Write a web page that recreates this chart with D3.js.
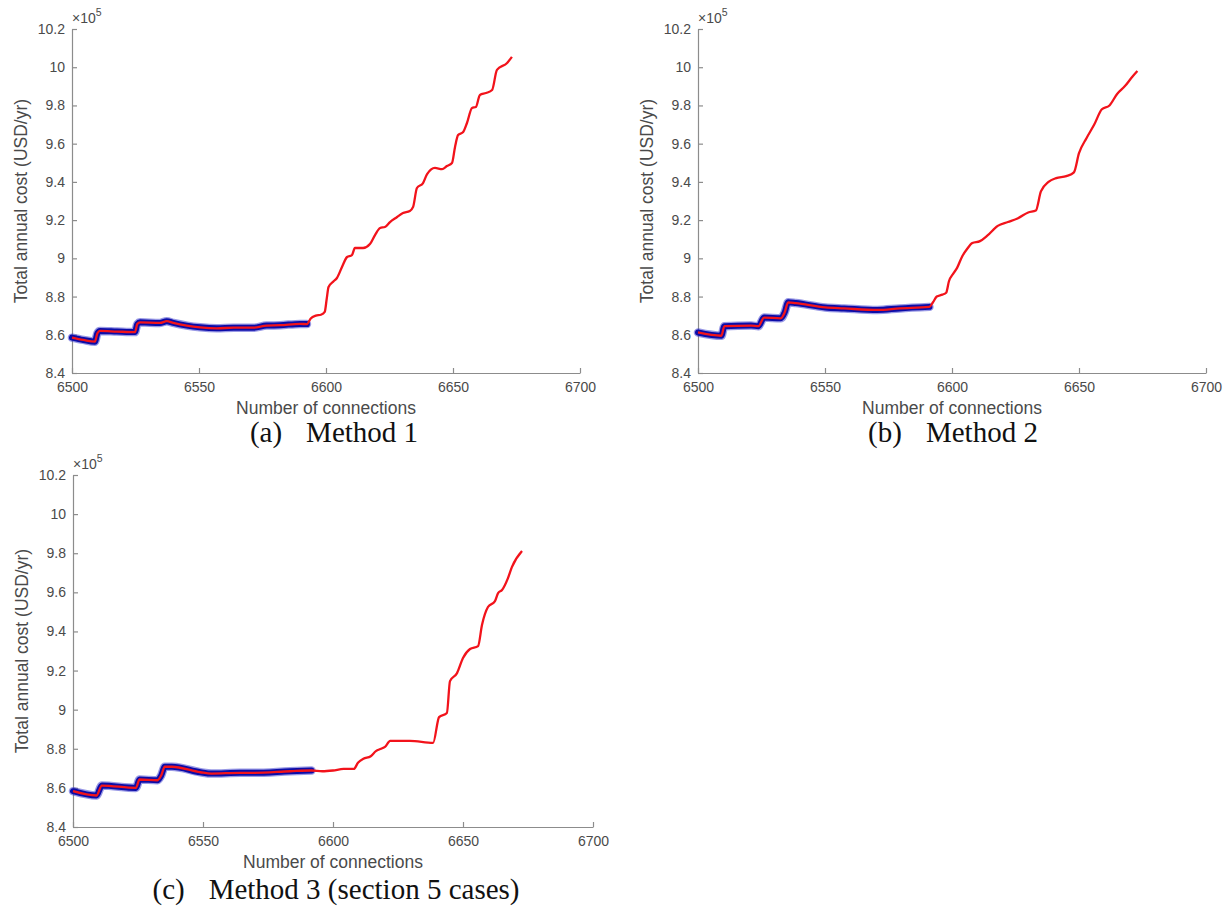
<!DOCTYPE html>
<html>
<head>
<meta charset="utf-8">
<style>
body { margin: 0; background: #fff; }
svg { display: block; }
.axis path, .axis line { stroke: #8c8c8c; stroke-width: 1.2; }
.axis text { font-family: "Liberation Sans", Arial, sans-serif; font-size: 14px; fill: #4a4a4a; }
.alabel { font-family: "Liberation Sans", Arial, sans-serif; font-size: 17.5px; fill: #4a4a4a; }
.caption { font-family: "Liberation Serif", serif; font-size: 29px; fill: #111; }
</style>
</head>
<body>
<svg id="fig" width="1228" height="912"></svg>
<script src="https://d3js.org/d3.v7.min.js"></script>
<script>

// tick values (cost in units of 1e5 USD/yr)
var yTicks = [8.4, 8.6, 8.8, 9, 9.2, 9.4, 9.6, 9.8, 10, 10.2];
var xTicks = [6500, 6550, 6600, 6650, 6700];

// (a) Method 1
var connA_blue = [6500, 6504.5, 6509, 6510, 6511, 6517.6, 6524.8, 6525.7, 6526.8, 6534.6, 6537.3, 6539.9, 6545.2, 6550.4, 6557, 6563.6, 6571.4, 6576.6, 6581.9, 6589.8, 6592.5];
var costA_blue = [8.585, 8.573, 8.564, 8.608, 8.62, 8.617, 8.614, 8.656, 8.665, 8.662, 8.671, 8.662, 8.648, 8.639, 8.634, 8.637, 8.637, 8.648, 8.65, 8.657, 8.656];
var connA_red = [6592.5, 6594, 6596, 6598, 6599.5, 6600.3, 6601, 6603, 6604.3, 6606.3, 6608.3, 6610.2, 6611.4, 6614.6, 6617.3, 6619.3, 6621.3, 6623.2, 6625.2, 6628, 6630.3, 6633, 6634.3, 6635.8, 6638.2, 6639.8, 6642.9, 6645.7, 6647.6, 6649.6, 6650.8, 6652, 6654, 6655.5, 6657.5, 6659, 6660.6, 6663, 6665.4, 6667.3, 6671.3, 6673.2];
var costA_red = [8.656, 8.685, 8.70, 8.705, 8.72, 8.79, 8.85, 8.88, 8.897, 8.955, 9.007, 9.017, 9.054, 9.054, 9.075, 9.122, 9.159, 9.164, 9.19, 9.216, 9.237, 9.248, 9.269, 9.368, 9.394, 9.441, 9.473, 9.467, 9.483, 9.499, 9.583, 9.645, 9.661, 9.708, 9.787, 9.792, 9.855, 9.865, 9.881, 9.986, 10.022, 10.054];

// (b) Method 2
var connB_blue = [6500, 6509.2, 6510.4, 6520.9, 6523.8, 6526, 6532.6, 6534.1, 6535.5, 6538.5, 6550.1, 6557.5, 6570.6, 6579.4, 6591.1];
var costB_blue = [8.612, 8.595, 8.645, 8.648, 8.645, 8.69, 8.686, 8.716, 8.77, 8.766, 8.743, 8.738, 8.730, 8.738, 8.746];
var connB_red = [6591.1, 6592.5, 6594, 6596.2, 6597.7, 6598.8, 6600.5, 6602, 6604, 6606, 6608, 6611, 6614, 6618, 6622, 6626, 6630, 6633, 6635, 6638, 6641, 6645, 6648, 6650, 6653, 6656, 6659, 6662, 6665, 6668, 6671, 6673];
var costB_red = [8.746, 8.77, 8.80, 8.81, 8.82, 8.88, 8.92, 8.95, 9.01, 9.05, 9.08, 9.09, 9.12, 9.17, 9.19, 9.21, 9.24, 9.25, 9.35, 9.40, 9.42, 9.43, 9.45, 9.55, 9.63, 9.70, 9.78, 9.80, 9.86, 9.90, 9.95, 9.98];

// (c) Method 3
var connC_blue = [6500, 6509, 6511.1, 6524.2, 6525.6, 6532.5, 6533.9, 6535.3, 6538, 6549, 6553.2, 6564.2, 6569.7, 6583.5, 6591.7];
var costC_blue = [8.583, 8.561, 8.612, 8.60, 8.643, 8.639, 8.663, 8.708, 8.708, 8.68, 8.673, 8.677, 8.677, 8.685, 8.689];
var connC_red = [6591.7, 6595.9, 6600, 6604.1, 6608, 6609.6, 6611.7, 6614.5, 6616.5, 6618.5, 6620, 6622, 6629.6, 6638.5, 6640.8, 6643.8, 6645, 6647.7, 6650, 6652.7, 6655.8, 6657.3, 6659.6, 6662.3, 6663.5, 6665, 6667.3, 6668.8, 6672.7];
var costC_red = [8.689, 8.685, 8.689, 8.697, 8.697, 8.728, 8.749, 8.762, 8.788, 8.80, 8.81, 8.84, 8.84, 8.83, 8.962, 8.983, 9.146, 9.187, 9.264, 9.31, 9.325, 9.433, 9.525, 9.555, 9.596, 9.612, 9.673, 9.729, 9.811];

var tags = ["(a)", "(b)", "(c)"];
var titles = ["Method 1", "Method 2", "Method 3 (section 5 cases)"];

var svg = d3.select("#fig");

var panels = [
  {left: 72, top: 29, w: 508, h: 344, bn: connA_blue, bc: costA_blue, rn: connA_red, rc: costA_red, cap: 334, capY: 69},
  {left: 698, top: 29, w: 508, h: 344, bn: connB_blue, bc: costB_blue, rn: connB_red, rc: costB_red, cap: 953, capY: 69},
  {left: 73, top: 475, w: 520, h: 352, bn: connC_blue, bc: costC_blue, rn: connC_red, rc: costC_red, cap: 336, capY: 72}
];

panels.forEach(function(p, i) {
  var x = d3.scaleLinear().domain([6500, 6700]).range([p.left, p.left + p.w]);
  var y = d3.scaleLinear().domain([8.4, 10.2]).range([p.top + p.h, p.top]);
  var g = svg.append("g");

  g.append("g").attr("class", "axis")
    .attr("transform", "translate(0," + (p.top + p.h) + ")")
    .call(d3.axisBottom(x).tickValues(xTicks).tickSizeInner(-5).tickSizeOuter(0).tickPadding(9).tickFormat(d3.format("d")));
  g.append("g").attr("class", "axis")
    .attr("transform", "translate(" + p.left + ",0)")
    .call(d3.axisLeft(y).tickValues(yTicks).tickSizeInner(-5).tickSizeOuter(0).tickPadding(7).tickFormat(d3.format("~g")));

  // exponent label
  var ex = g.append("text").attr("x", p.left).attr("y", p.top - 6)
    .attr("font-family", "Liberation Sans, Arial, sans-serif").attr("font-size", 14).attr("fill", "#4a4a4a");
  ex.append("tspan").text("\u00d710");
  ex.append("tspan").attr("dy", -7).attr("font-size", 10.5).text("5");

  g.append("text").attr("class", "alabel")
    .attr("x", p.left + p.w / 2).attr("y", p.top + p.h + 41)
    .attr("text-anchor", "middle").text("Number of connections");
  g.append("text").attr("class", "alabel")
    .attr("transform", "translate(" + (p.left - 45) + "," + (p.top + p.h / 2) + ") rotate(-90)")
    .attr("text-anchor", "middle").text("Total annual cost (USD/yr)");

  var line = d3.line().x(function(d) { return x(d[0]); }).y(function(d) { return y(d[1]); })
    .curve(d3.curveMonotoneX);
  var blue = d3.zip(p.bn, p.bc);
  var red = blue.concat(d3.zip(p.rn, p.rc).slice(1));

  g.append("path").datum(blue).attr("d", line)
    .attr("fill", "none").attr("stroke", "#3434cc").attr("stroke-opacity", 0.5)
    .attr("stroke-width", 8.5).attr("stroke-linejoin", "round").attr("stroke-linecap", "round");
  g.append("path").datum(blue).attr("d", line)
    .attr("fill", "none").attr("stroke", "#0c0ca8")
    .attr("stroke-width", 6).attr("stroke-linejoin", "round").attr("stroke-linecap", "round");
  g.append("path").datum(red).attr("d", line)
    .attr("fill", "none").attr("stroke", "#f2131b")
    .attr("stroke-width", 2.3).attr("stroke-linejoin", "round");

  var c = g.append("text").attr("class", "caption")
    .attr("y", p.top + p.h + p.capY).attr("text-anchor", "middle").attr("x", p.cap);
  c.append("tspan").text(tags[i]);
  c.append("tspan").attr("dx", 24).text(titles[i]);
});

</script>
</body>
</html>
